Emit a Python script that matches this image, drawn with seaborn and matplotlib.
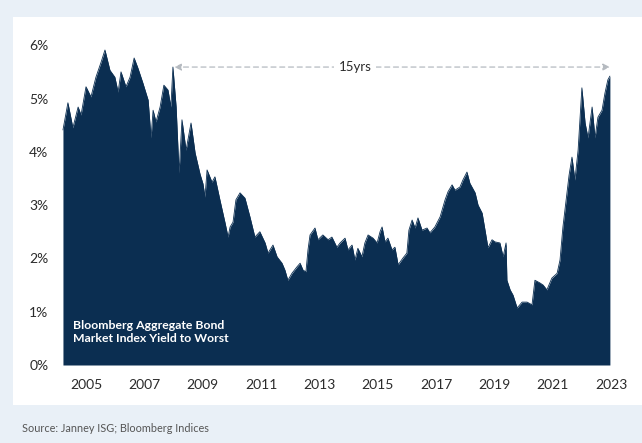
import matplotlib
matplotlib.use("Agg")
import matplotlib.pyplot as plt
import seaborn as sns
import pandas as pd

# ---- data (decimal year, yield to worst in %) ----
years = [2004.21, 2004.38, 2004.55, 2004.73, 2004.83, 2005.00, 2005.17, 2005.34, 2005.51, 2005.65,
         2005.82, 2005.99, 2006.10, 2006.20, 2006.37, 2006.51, 2006.65, 2006.78, 2006.95, 2007.13,
         2007.23, 2007.30, 2007.40, 2007.54, 2007.67, 2007.81, 2007.91, 2007.98, 2008.09, 2008.19,
         2008.29, 2008.43, 2008.60, 2008.74, 2008.91, 2009.01, 2009.08, 2009.15, 2009.32, 2009.42,
         2009.59, 2009.77, 2009.87, 2009.94, 2010.04, 2010.14, 2010.28, 2010.45, 2010.62, 2010.79,
         2010.96, 2011.14, 2011.24, 2011.41, 2011.55, 2011.72, 2011.82, 2011.92, 2012.06, 2012.23,
         2012.34, 2012.44, 2012.54, 2012.61, 2012.68, 2012.85, 2012.95, 2013.12, 2013.30, 2013.43,
         2013.60, 2013.71, 2013.88, 2013.98, 2014.12, 2014.22, 2014.32, 2014.46, 2014.56, 2014.67,
         2014.84, 2014.98, 2015.08, 2015.15, 2015.25, 2015.35, 2015.49, 2015.59, 2015.70, 2015.87,
         2016.00, 2016.07, 2016.18, 2016.28, 2016.38, 2016.52, 2016.69, 2016.79, 2016.96, 2017.14,
         2017.31, 2017.41, 2017.55, 2017.65, 2017.82, 2017.92, 2018.06, 2018.16, 2018.34, 2018.44,
         2018.58, 2018.68, 2018.78, 2018.92, 2019.02, 2019.19, 2019.30, 2019.40, 2019.43, 2019.54,
         2019.64, 2019.78, 2019.95, 2020.12, 2020.29, 2020.39, 2020.56, 2020.67, 2020.80, 2020.97,
         2021.15, 2021.25, 2021.35, 2021.49, 2021.56, 2021.66, 2021.76, 2021.87, 2022.00, 2022.11,
         2022.21, 2022.35, 2022.45, 2022.55, 2022.69, 2022.79, 2022.89, 2022.96]
ytw = [4.41, 4.92, 4.45, 4.84, 4.69, 5.22, 5.03, 5.40, 5.67, 5.91,
       5.53, 5.40, 5.12, 5.50, 5.22, 5.40, 5.76, 5.57, 5.29, 4.97,
       4.26, 4.78, 4.56, 4.84, 5.25, 5.16, 4.84, 5.59, 4.84, 3.60,
       4.60, 4.03, 4.54, 3.98, 3.58, 3.40, 3.15, 3.66, 3.43, 3.53,
       3.10, 2.66, 2.40, 2.59, 2.68, 3.10, 3.23, 3.13, 2.78, 2.40,
       2.50, 2.29, 2.10, 2.25, 2.03, 1.91, 1.78, 1.59, 1.72, 1.84,
       1.91, 1.78, 1.75, 2.16, 2.44, 2.57, 2.35, 2.44, 2.35, 2.40,
       2.21, 2.29, 2.38, 2.16, 2.25, 1.97, 2.19, 2.03, 2.29, 2.44,
       2.38, 2.29, 2.50, 2.59, 2.31, 2.38, 2.16, 2.21, 1.88, 2.01,
       2.10, 2.53, 2.72, 2.57, 2.76, 2.53, 2.57, 2.48, 2.59, 2.78,
       3.10, 3.25, 3.38, 3.28, 3.34, 3.47, 3.62, 3.41, 3.23, 3.00,
       2.85, 2.53, 2.20, 2.35, 2.31, 2.29, 2.03, 2.29, 1.59, 1.41,
       1.31, 1.07, 1.18, 1.18, 1.13, 1.59, 1.54, 1.50, 1.41, 1.63,
       1.72, 1.97, 2.59, 3.23, 3.56, 3.90, 3.47, 4.03, 5.20, 4.54,
       4.26, 4.84, 4.26, 4.65, 4.78, 5.10, 5.35, 5.42]
x_ticks = [2005, 2007, 2009, 2011, 2013, 2015, 2017, 2019, 2021, 2023]
y_ticks = [0, 1, 2, 3, 4, 5, 6]
y_labels = ["0%", "1%", "2%", "3%", "4%", "5%", "6%"]
series_label = "Bloomberg Aggregate Bond\nMarket Index Yield to Worst"
span_label = "15yrs"
source = "Source: Janney ISG; Bloomberg Indices"

df = pd.DataFrame({"year": years, "ytw": ytw})

sns.set_theme(style="white")
plt.rcParams["font.family"] = ["Lato", "DejaVu Sans"]

NAVY = "#0b2e51"
BG = "#e9f0f7"
W, H = 642, 443
fig = plt.figure(figsize=(W / 100, H / 100), dpi=100, facecolor=BG)

# white panel (background axes)
bg_ax = fig.add_axes([13 / W, 1 - 405 / H, 1 - 13 / W, (405 - 17) / H], zorder=-5)
bg_ax.set_facecolor("white")
bg_ax.set_xticks([])
bg_ax.set_yticks([])
for s in bg_ax.spines.values():
    s.set_visible(False)

x0, x1 = 2004.0, 2023.5
ppy = 29.17
left_px = 86 - (2005 - x0) * ppy
right_px = left_px + (x1 - x0) * ppy
y0, y1 = 0, 6.2
ppv = 53.3
bottom_px = 365
top_px = bottom_px - (y1 - y0) * ppv
ax = fig.add_axes([left_px / W, 1 - bottom_px / H, (right_px - left_px) / W,
                   (bottom_px - top_px) / H], zorder=1)
ax.set_facecolor("none")

sns.lineplot(data=df, x="year", y="ytw", ax=ax, color=NAVY, linewidth=0.6)
ax.fill_between(df["year"], df["ytw"], 0, color=NAVY, linewidth=0)

ax.set_xlim(x0, x1)
ax.set_ylim(y0, y1)
ax.set_xticks(x_ticks)
ax.set_xticklabels([str(t) for t in x_ticks])
ax.set_yticks(y_ticks)
ax.set_yticklabels(y_labels)
ax.tick_params(axis="both", length=0, labelsize=10, colors="#2b2b2b")
ax.tick_params(axis="x", pad=10)
ax.tick_params(axis="y", pad=6)
ax.set_xlabel("")
ax.set_ylabel("")
for s in ax.spines.values():
    s.set_visible(False)
ax.grid(False)

# 15-year span annotation from 2008 peak to last point
mask = (df["year"] > 2007.5) & (df["year"] < 2008.5)
peak_idx = df.loc[mask, "ytw"].idxmax()
px, py = df.loc[peak_idx, "year"], df.loc[peak_idx, "ytw"]
ex = df["year"].iloc[-1]
ax.annotate("", xy=(px + 0.05, py), xytext=(ex, py),
            arrowprops=dict(arrowstyle="<|-|>", color="#b5bac0", lw=0.9,
                            linestyle=(0, (4, 3)), shrinkA=0, shrinkB=0,
                            mutation_scale=10))
ax.text(px + 0.417 * (ex - px), py, span_label, ha="center", va="center", fontsize=9.5,
        color="#2b2b2b", bbox=dict(facecolor="white", edgecolor="none", pad=3))

fig.text(73 / W, 1 - 332 / H, series_label, ha="left", va="center", fontsize=8.8,
         color="white", fontweight="bold", linespacing=1.3, zorder=5)

fig.text(22 / W, 1 - 428 / H, source, ha="left", va="center", fontsize=7.8,
         color="#555555")

fig.savefig("out.png", dpi=100, facecolor=BG)
